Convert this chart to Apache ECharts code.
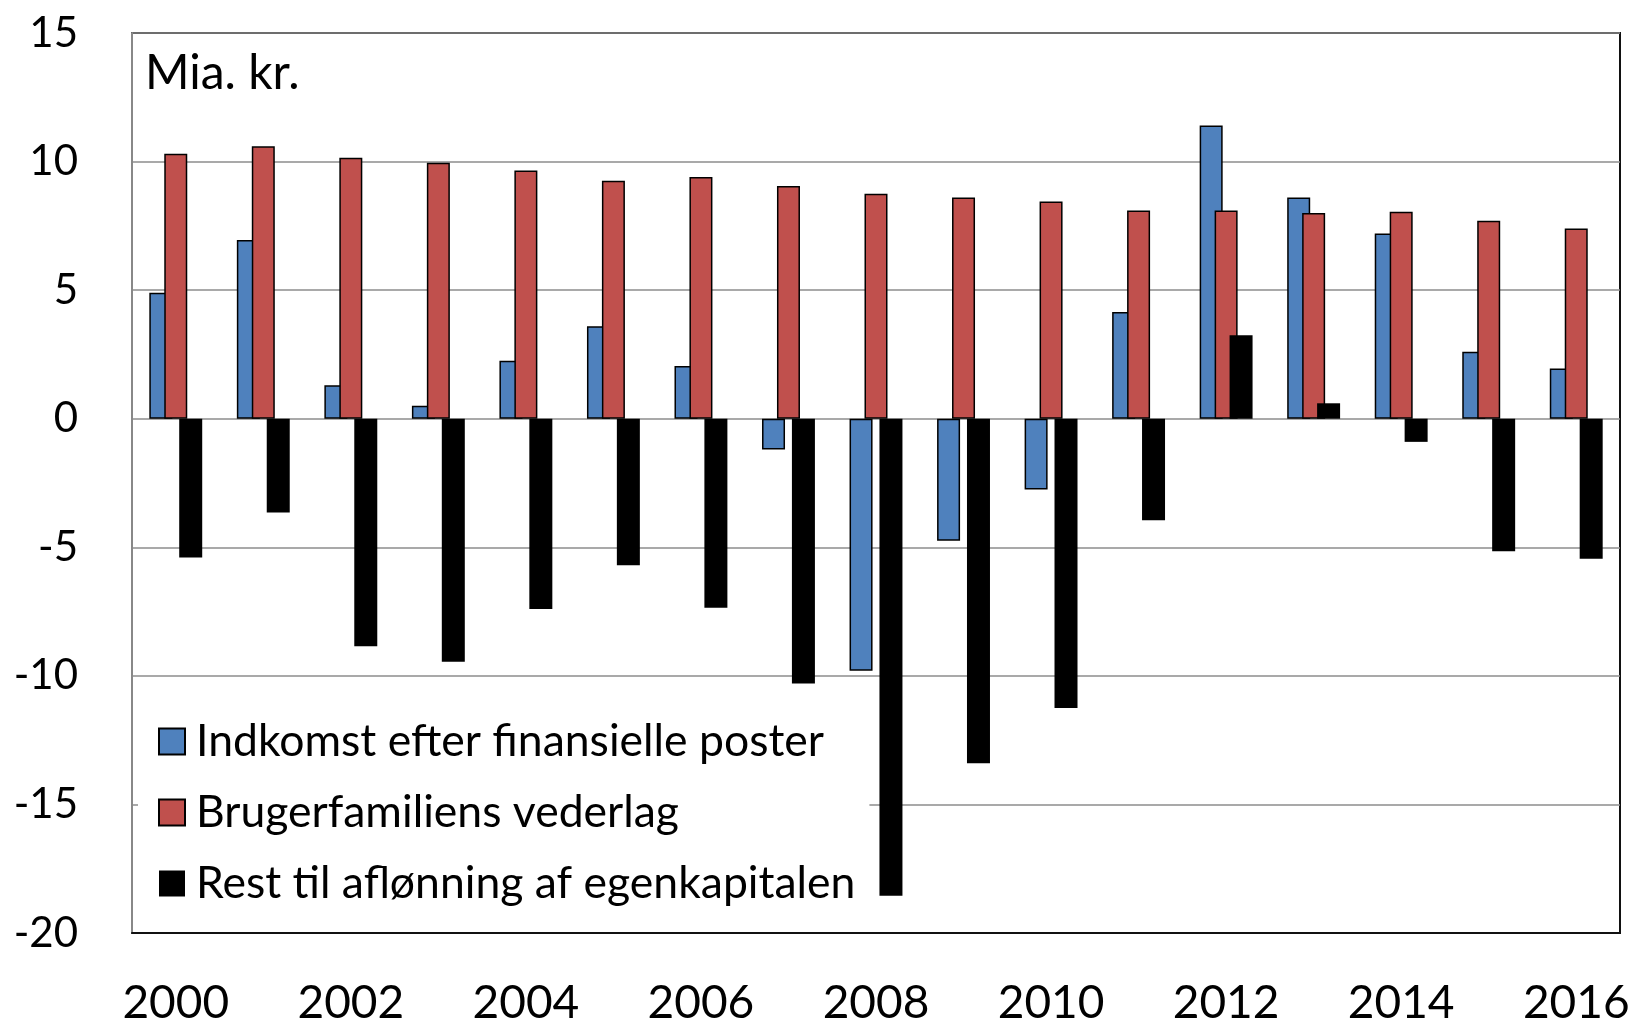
<!DOCTYPE html>
<html>
<head>
<meta charset="utf-8">
<script src="https://cdn.jsdelivr.net/npm/echarts@6/dist/echarts.min.js"></script>
<style>
html,body{margin:0;padding:0;background:#fff;}
#chart{width:1633px;height:1022px;}
</style>
</head>
<body>
<div id="chart"></div>
<script>
var years = ['2000','2001','2002','2003','2004','2005','2006','2007','2008','2009','2010','2011','2012','2013','2014','2015','2016'];
var indkomst = [4.9, 6.95, 1.3, 0.5, 2.25, 3.6, 2.05, -1.2, -9.8, -4.75, -2.75, 4.15, 11.4, 8.6, 7.2, 2.6, 1.95];
var vederlag = [10.3, 10.6, 10.15, 9.95, 9.65, 9.25, 9.4, 9.05, 8.75, 8.6, 8.45, 8.1, 8.1, 8.0, 8.05, 7.7, 7.4];
var rest = [-5.4, -3.65, -8.85, -9.45, -7.4, -5.7, -7.35, -10.3, -18.55, -13.4, -11.25, -3.95, 3.25, 0.6, -0.9, -5.15, -5.45];
var seriesNames = ['Indkomst efter finansielle poster', 'Brugerfamiliens vederlag', 'Rest til aflønning af egenkapitalen'];
var yTicks = [-20, -15, -10, -5, 0, 5, 10, 15];
var unitLabel = 'Mia. kr.';

var FONT = 'Lato, "Open Sans", sans-serif';
var chart = echarts.init(document.getElementById('chart'), null, {renderer: 'canvas'});
var option = {
  animation: false,
  backgroundColor: '#fff',
  title: {
    text: unitLabel,
    left: 140,
    top: 45,
    textStyle: {fontFamily: FONT, fontSize: 48, fontWeight: 'normal', color: '#000'}
  },
  grid: {
    left: 132, right: 13, top: 33, bottom: 89,
    containLabel: false,
    outerBoundsMode: 'none',
    show: true, borderColor: '#111', borderWidth: 2, backgroundColor: 'transparent'
  },
  legend: {
    orient: 'vertical',
    left: 138,
    top: 705,
    padding: [14, 14, 14, 20],
    backgroundColor: '#fff',
    itemWidth: 26,
    itemHeight: 26,
    itemGap: 26,
    icon: 'rect',
    textStyle: {fontFamily: FONT, fontSize: 44.5, color: '#000', padding: [0, 0, 0, 6]},
    data: seriesNames
  },
  xAxis: {
    type: 'category',
    data: years,
    axisLine: {onZero: false, lineStyle: {color: '#111', width: 2}},
    axisTick: {show: false},
    axisLabel: {interval: 1, fontFamily: FONT, fontSize: 46, color: '#000', margin: 47},
    splitLine: {show: false}
  },
  yAxis: {
    type: 'value',
    min: yTicks[0],
    max: yTicks[yTicks.length - 1],
    interval: 5,
    axisLine: {show: true, lineStyle: {color: '#888', width: 2}},
    axisTick: {show: false},
    axisLabel: {fontFamily: FONT, fontSize: 42, color: '#000', margin: 54},
    splitLine: {lineStyle: {color: '#8c8c8c', width: 1.5}}
  },
  series: [
    {
      name: seriesNames[0], type: 'bar', data: indkomst,
      barWidth: 23, barGap: '-35%',
      itemStyle: {color: '#4F81BD', borderColor: '#000', borderWidth: 1.5}
    },
    {
      name: seriesNames[1], type: 'bar', data: vederlag,
      barWidth: 23, barGap: '-35%',
      itemStyle: {color: '#C0504D', borderColor: '#000', borderWidth: 1.5}
    },
    {
      name: seriesNames[2], type: 'bar', data: rest,
      barWidth: 23, barGap: '-35%',
      itemStyle: {color: '#000', borderColor: '#000', borderWidth: 0}
    }
  ]
};
chart.setOption(option);
</script>
</body>
</html>
